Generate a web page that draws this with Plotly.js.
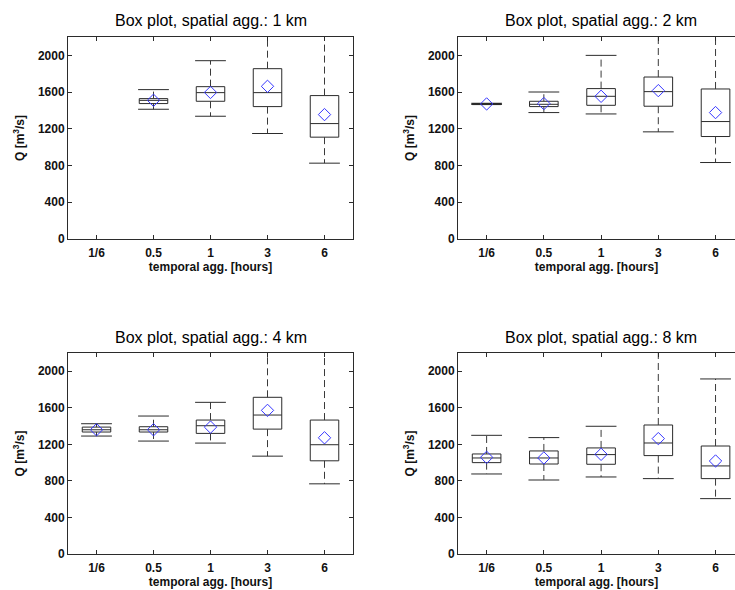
<!DOCTYPE html>
<html>
<head>
<meta charset="utf-8">
<script src="https://cdn.plot.ly/plotly-3.0.1.min.js"></script>
<style>html,body{margin:0;padding:0;background:#fff;}#chart{width:735px;height:590px;}</style>
</head>
<body>
<div id="chart"></div>
<script>
// Categories (temporal aggregation)
const categories = ["1/6", "0.5", "1", "3", "6"];
const yTickVals = [0, 400, 800, 1200, 1600, 2000];
const titles = ["Box plot, spatial agg.: 1 km", "Box plot, spatial agg.: 2 km",
                "Box plot, spatial agg.: 4 km", "Box plot, spatial agg.: 8 km"];

// 1 km
const km1Lower  = [null, 1413, 1337, 1149, 826];
const km1Q1     = [null, 1475, 1500, 1442, 1109];
const km1Median = [null, 1510, 1594, 1594, 1257];
const km1Q3     = [null, 1529, 1659, 1855, 1562];
const km1Upper  = [null, 1627, 1942, 2500, 2500];
const km1Mean   = [null, 1511, 1596, 1663, 1355];

// 2 km
const km2Lower  = [1466, 1377, 1362, 1167, 833];
const km2Q1     = [1464, 1442, 1456, 1446, 1116];
const km2Median = [1471, 1467, 1554, 1605, 1279];
const km2Q3     = [1476, 1500, 1638, 1764, 1634];
const km2Upper  = [1478, 1601, 2000, 2500, 2500];
const km2Mean   = [1471, 1475, 1554, 1616, 1377];

// 4 km
const km4Lower  = [1291, 1236, 1214, 1071, 768];
const km4Q1     = [1335, 1335, 1320, 1367, 1020];
const km4Median = [1360, 1360, 1404, 1521, 1196];
const km4Q3     = [1389, 1393, 1466, 1715, 1466];
const km4Upper  = [1426, 1510, 1660, 2500, 2500];
const km4Mean   = [1360, 1360, 1389, 1572, 1272];

// 8 km
const km8Lower  = [876, 810, 843, 825, 606];
const km8Q1     = [1000, 985, 982, 1077, 825];
const km8Median = [1051, 1051, 1088, 1215, 964];
const km8Q3     = [1095, 1128, 1161, 1412, 1182];
const km8Upper  = [1299, 1274, 1398, 2500, 1916];
const km8Mean   = [1058, 1051, 1091, 1263, 1018];

const panels = [
  {lo: km1Lower, q1: km1Q1, med: km1Median, q3: km1Q3, up: km1Upper, mean: km1Mean},
  {lo: km2Lower, q1: km2Q1, med: km2Median, q3: km2Q3, up: km2Upper, mean: km2Mean},
  {lo: km4Lower, q1: km4Q1, med: km4Median, q3: km4Q3, up: km4Upper, mean: km4Mean},
  {lo: km8Lower, q1: km8Q1, med: km8Median, q3: km8Q3, up: km8Upper, mean: km8Mean}
];

const W = 735, H = 590;
const xDomL = [68 / W, 353 / W];
const xDomR = [458 / W, 1];
const yDomT = [1 - 239 / H, 1 - 37 / H];
const yDomB = [1 - 554 / H, 1 - 353 / H];
const domains = [[xDomL, yDomT], [xDomR, yDomT], [xDomL, yDomB], [xDomR, yDomB]];

const lineCol = '#2b2b2b';
const fontFam = 'Liberation Sans, Arial, sans-serif';
const data = [];
const layout = {
  width: W, height: H,
  margin: {l: 0, r: 0, t: 0, b: 0},
  paper_bgcolor: '#fff', plot_bgcolor: '#fff',
  showlegend: false,
  boxgap: 0.5, boxgroupgap: 0,
  font: {family: fontFam, color: '#000'},
  annotations: []
};

panels.forEach((p, i) => {
  const n = i + 1;
  const xa = n === 1 ? 'x' : 'x' + n;
  const ya = n === 1 ? 'y' : 'y' + n;
  const idx = categories.map((c, k) => k).filter(k => p.q1[k] !== null);
  const cats = idx.map(k => categories[k]);

  // dashed whiskers
  const wx = [], wy = [];
  idx.forEach(k => {
    wx.push(categories[k], categories[k], null, categories[k], categories[k], null);
    wy.push(p.q3[k], p.up[k], null, p.q1[k], p.lo[k], null);
  });
  data.push({type: 'scatter', mode: 'lines', x: wx, y: wy, xaxis: xa, yaxis: ya,
    line: {color: '#3a3a3a', width: 1, dash: '7px,4px'}, hoverinfo: 'skip'});

  // whisker caps
  data.push({type: 'scatter', mode: 'markers',
    x: cats.concat(cats), y: idx.map(k => p.up[k]).concat(idx.map(k => p.lo[k])),
    xaxis: xa, yaxis: ya,
    marker: {symbol: 'line-ew', size: 22, color: lineCol, line: {width: 1, color: lineCol}},
    hoverinfo: 'skip'});

  // boxes
  data.push({type: 'box', x: cats, xaxis: xa, yaxis: ya,
    q1: idx.map(k => p.q1[k]), median: idx.map(k => p.med[k]), q3: idx.map(k => p.q3[k]),
    lowerfence: idx.map(k => p.q1[k]), upperfence: idx.map(k => p.q3[k]),
    fillcolor: 'rgba(0,0,0,0)', line: {color: lineCol, width: 1},
    whiskerwidth: 0, boxpoints: false});

  // means
  data.push({type: 'scatter', mode: 'markers', x: cats, y: idx.map(k => p.mean[k]),
    xaxis: xa, yaxis: ya,
    marker: {symbol: 'diamond-open', size: 9.5, color: '#3535ff', line: {width: 1, color: '#3535ff'}}});

  const right = (i % 2 === 1);
  const xKey = n === 1 ? 'xaxis' : 'xaxis' + n;
  const yKey = n === 1 ? 'yaxis' : 'yaxis' + n;
  layout[xKey] = {
    domain: domains[i][0], anchor: ya, type: 'category',
    categoryorder: 'array', categoryarray: categories,
    range: right ? [-0.5, 4.34] : [-0.5, 4.5],
    showline: true, linecolor: lineCol, linewidth: 1, mirror: 'ticks',
    ticks: 'inside', ticklen: 4, tickcolor: lineCol, showgrid: false, zeroline: false,
    ticklabelstandoff: 3,
    tickfont: {size: 12, family: fontFam, weight: 'bold', color: '#111'},
    title: {text: 'temporal agg. [hours]', standoff: 2,
      font: {size: 12, family: fontFam, weight: 'bold', color: '#111'}},
    fixedrange: true
  };
  layout[yKey] = {
    domain: domains[i][1], anchor: xa,
    range: [0, 2200], tickvals: yTickVals,
    showline: true, linecolor: lineCol, linewidth: 1, mirror: right ? false : 'ticks',
    ticks: 'inside', ticklen: 4, tickcolor: lineCol, showgrid: false, zeroline: false,
    tickfont: {size: 12, family: fontFam, weight: 'bold', color: '#111'},
    title: {text: 'Q [m<sup>3</sup>/s]', standoff: 10,
      font: {size: 12, family: fontFam, weight: 'bold', color: '#111'}},
    fixedrange: true
  };
  const xc = (domains[i][0][0] + (right ? 744 / W : domains[i][0][1])) / 2;
  layout.annotations.push({
    text: titles[i], xref: 'paper', yref: 'paper', showarrow: false,
    x: xc, xanchor: 'center',
    y: i < 2 ? 1 - 21 / H : 1 - 337.5 / H, yanchor: 'middle',
    font: {size: 16, family: fontFam, color: '#000'}
  });
});

Plotly.newPlot('chart', data, layout, {displayModeBar: false, staticPlot: true});
</script>
</body>
</html>
